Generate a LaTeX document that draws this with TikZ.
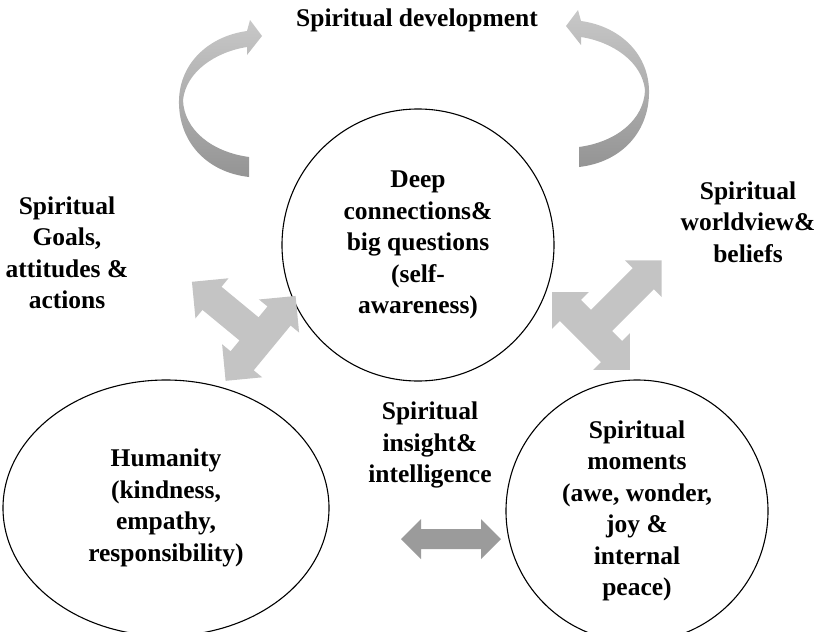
\documentclass[tikz,border=0pt]{standalone}
\usepackage{fontspec}
\setmainfont{Liberation Serif}
\usetikzlibrary{shapes.geometric}

\definecolor{tgray}{RGB}{196,196,196}
\definecolor{ribbonlight}{RGB}{200,200,200}
\definecolor{ribbondark}{RGB}{148,148,148}
\definecolor{bargray}{RGB}{155,155,155}

% three headed block arrow: centre, turn, stem length
\newcommand{\tarrow}[3]{%
  \fill[tgray, shift={#1}, rotate=#2] (55,0) -- (29,26) -- (29,15) -- (15,15)
    -- (15,{#3-26}) -- (26,{#3-26}) -- (0,#3) -- (-26,{#3-26}) -- (-15,{#3-26})
    -- (-15,15) -- (-29,15) -- (-29,26) -- (-55,0) -- (-29,-26) -- (-29,-15)
    -- (29,-15) -- (29,-26) -- cycle;}

\begin{document}
\begin{tikzpicture}[x=1pt, y=-1pt,
  lbl/.style={align=center, inner sep=0pt,
    font=\bfseries\fontsize{25.5}{31.5}\selectfont},
  bubble/.style={lbl, circle, draw, line width=1.1pt},
  ribbon/.style={top color=ribbonlight, bottom color=ribbondark},
  devarrow/.pic={
    \shade[ribbon] (249,177) .. controls (205,172) and (178,140) .. (179,100)
      .. controls (180,62) and (210,36) .. (247,31) -- (250,20) -- (262,36)
      -- (247,55) -- (247,47) .. controls (215,52) and (186,72) .. (183,100)
      .. controls (184,130) and (212,152) .. (249,157) -- cycle;}]
\useasboundingbox (0,0) rectangle (817,632);

% circles
\node[bubble, minimum size=272pt] (deep) at (418,245)
  {Deep\\connections\&\\big questions\\(self-\\awareness)};
\node[bubble, ellipse, minimum width=326pt, minimum height=256pt] (humanity)
  at (166,508) {Humanity\\(kindness,\\empathy,\\responsibility)};
\node[bubble, minimum size=262pt] (moments) at (637,511)
  {Spiritual\\moments\\(awe, wonder,\\joy \&\\internal\\peace)};

% outside labels
\node[lbl] (title) at (417,20) {Spiritual development};
\node[lbl] (goals) at (67,253) {Spiritual\\Goals,\\attitudes \&\\actions};
\node[lbl] (worldview) at (748,222) {Spiritual\\worldview\&\\beliefs};
\node[lbl] (insight) at (430,445) {Spiritual\\insight\&\\intelligence};

% curved arrows round the title
\pic at (0,0) {devarrow};
\pic[xscale=-1] at (828,-10) {devarrow};

% block arrows
\tarrow{(260.6,338.4)}{230.5}{89}
\tarrow{(591,331)}{135}{100}
\fill[bargray, shift={(451,539)}] (-50,0) -- (-30,-20) -- (-30,-10) -- (30,-10)
  -- (30,-20) -- (50,0) -- (30,20) -- (30,10) -- (-30,10) -- (-30,20) -- cycle;
\end{tikzpicture}
\end{document}
